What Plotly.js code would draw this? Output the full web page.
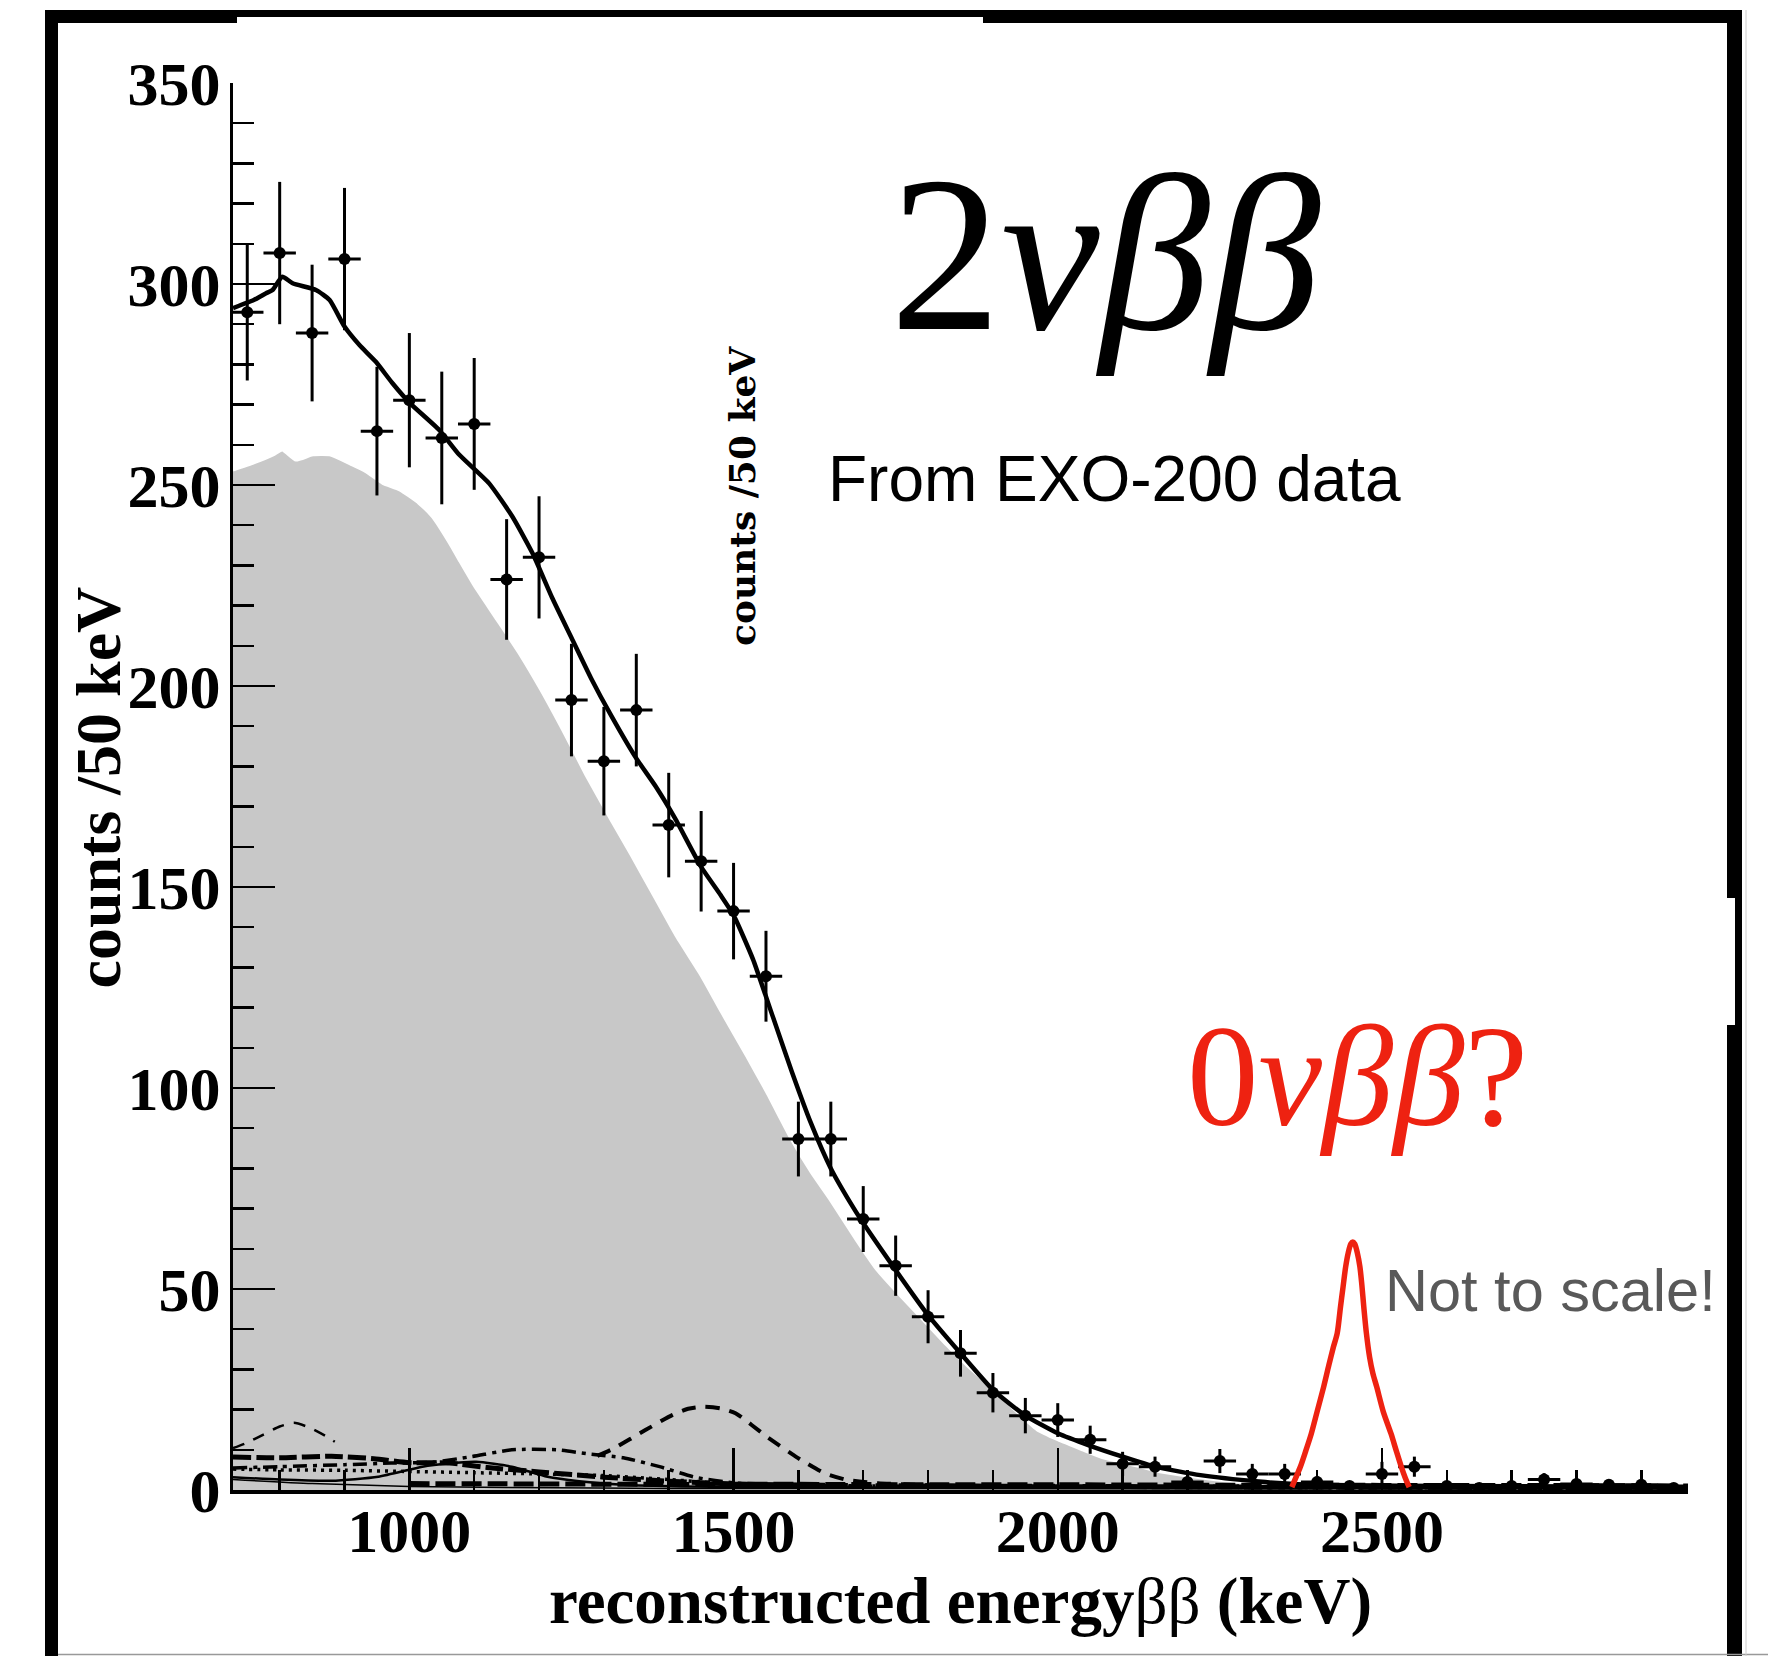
<!DOCTYPE html>
<html><head><meta charset="utf-8">
<script src="https://cdn.plot.ly/plotly-3.0.1.min.js"></script>
<style>html,body{margin:0;padding:0;background:#fff;} #chart{width:1768px;height:1656px;}</style>
</head><body><div id="chart"></div>
<script>
// ---- data ----
const binEnergy = [750,800,850,900,950,1000,1050,1100,1150,1200,1250,1300,1350,1400,1450,1500,1550,1600,1650,1700,1750,1800,1850,1900,1950,2000,2050,2100,2150,2200,2250,2300,2350,2400,2450,2500,2550,2600,2650,2700,2750,2800,2850,2900,2950];
const binCounts = [293,307.7,287.8,306.2,263.4,271.1,261.7,265.2,226.5,232,196.5,181.3,194,165.4,156.4,144,127.8,87.3,87.3,67.4,55.8,43.1,34,24.2,18.5,17.4,12.5,6.5,5.8,2,7.2,4,4,2,1,4,5.8,1,0.5,1,2.6,1.5,1.3,1.3,0.5];
const binErrors = [17,17.7,17,17.7,16,16.7,16.5,16.4,15,15.2,14,13.5,14,13,12.5,12,11.3,9.3,9.3,8.2,7.5,6.6,5.8,4.9,4.4,4.2,3.5,3,2.5,1.5,3,2.5,2.5,1.5,1,3,2.5,1,0.7,1,1.6,1.2,1.1,1.1,0.7];

const fitEnergy = [728,760,779,789,804,820,856,877,900,923,948,974,1000,1046,1077,1123,1159,1190,1220,1250,1280,1310,1350,1380,1410,1450,1480,1500,1530,1560,1590,1620,1650,1680,1700,1750,1800,1850,1900,1950,2000,2050,2100,2150,2220,2310,2364,2450,2600,2800,2972];
const fitCounts = [294,296,297.7,298.5,301.8,300.2,298.5,296,289.4,284.8,280.7,275.3,270.5,263.7,257.5,250.4,242.1,233,222,212,202,193,182,175,167,155,148,143,132,118,104,91,80,71.5,66.4,54.7,43.5,34,24.9,18.5,14.1,11,8.3,5.8,3.7,2.1,1.5,1.2,1,0.9,0.8];

const twoNuEnergy = [728,760,790,804,825,851,877,912,933,959,985,1015,1036,1062,1077,1100,1133,1170,1203,1240,1272,1310,1342,1380,1411,1450,1481,1520,1551,1590,1620,1650,1690,1720,1759,1800,1829,1860,1898,1930,1968,2000,2038,2070,2107,2150,2194,2240,2281,2330,2368,2420];
const twoNuCounts = [253.7,255.5,257.5,258.7,256.2,257.5,257.5,255,253.3,250.4,248.8,245.4,242,235.5,231.3,225,217,208,199,188,178,167,158,147,138,128,119,108,99,87,79,72,62,55,48,41,36,31,25.5,20.5,15,12.5,10,8,6.6,4.8,3.6,2.6,1.9,1.3,1,0.6];

const bkgA_E = [728,750,775,800,822,845,870,885];
const bkgA_V = [10.4,11.8,13.8,15.8,16.7,15.6,13.5,12];
const bkgB_E = [1290,1316,1364,1406,1430,1454,1480,1503,1551,1599,1640,1675,1723,1800,1900,2100,2400,2700,2972];
const bkgB_V = [8.5,10.4,14.9,18.7,20.2,20.7,20.3,19.1,13.3,8,4.2,2.5,1.7,1.2,1,0.9,0.8,0.7,0.6];
const bkgC_E = [728,800,900,972,1034,1096,1158,1227,1275,1330,1386,1440,1503,1560,1650,1800,2100,2500,2972];
const bkgC_V = [5.5,5.8,6.3,6.7,6.9,8.3,10,10,9,8,5.8,3.2,1.7,1.2,1,0.8,0.7,0.5,0.4];
const bkgD_E = [728,800,880,945,1000,1062,1120,1200,1300,1400,1500,1700,2000,2500,2972];
const bkgD_V = [8.2,8.0,8.4,7.8,6.8,6.7,5.6,4.5,3.2,2.2,1.5,1.1,0.9,0.7,0.6];
const bkgE_E = [728,800,880,952,1020,1060,1103,1158,1213,1262,1330,1420,1600,2000,2972];
const bkgE_V = [3.2,2.6,2.3,3.3,5.8,6.6,7,5.8,3.3,2.2,1.3,0.9,0.7,0.5,0.4];
const bkgF_E = [728,800,900,1000,1100,1200,1300,1400,1500,1700,2000,2500,2972];
const bkgF_V = [5.2,5,4.9,4.6,4.3,4,3.6,2.6,1.5,1,0.8,0.6,0.5];
const bkgG_E = [728,850,1000,1150,1400,2972];
const bkgG_V = [2.6,1.6,0.9,0.6,0.4,0.3];
const bkgH_E = [1000,1200,1400,1600,1800,2000,2200,2400,2600,2800,2972];
const bkgH_V = [1.6,1.5,1.4,1.4,1.3,1.3,1.2,1.2,1.1,1.1,1.0];

const zeroNuEnergy = [2361,2367,2374,2382,2391,2400,2410,2418,2425,2431,2436,2440,2444,2448,2452,2455,2458,2462,2466,2469,2472,2476,2481,2486,2492,2502,2514,2522,2530,2536,2542];
const zeroNuCounts = [0.7,3,5.7,9.5,14,19.5,25.6,31,35.5,39,45.5,50.5,55.5,59,61.2,61.7,61.2,59,55.5,51,45.5,39,33,29,25.6,19.5,14,9.8,5.7,3,0.7];

const xTickVals = [1000,1500,2000,2500];
const yTickVals = [0,50,100,150,200,250,300,350];

// ---- layout geometry (pixels) ----
const W = 1768, H = 1656, L = 233, R = 1688, T = 83, B = 1490;
const px = x => (x - L) / (R - L);
const py = y => (B - y) / (B - T);

const serif = 'Liberation Serif, Times New Roman, serif';
const sans = 'Liberation Sans, Arial, sans-serif';
const red = '#ee2211';

function bkg(E, V, dash, width) {
  return {x: E, y: V, type: 'scatter', mode: 'lines', hoverinfo: 'skip', showlegend: false,
          line: {color: 'black', width: width, dash: dash, shape: 'spline', smoothing: 0.6}};
}

const traces = [
  {x: twoNuEnergy, y: twoNuCounts, type: 'scatter', mode: 'lines', fill: 'tozeroy',
   fillcolor: '#c8c8c8', line: {color: 'white', width: 3, shape: 'spline', smoothing: 0.5}, showlegend: false},
  bkg(bkgG_E, bkgG_V, 'solid', 1.5),
  bkg(bkgE_E, bkgE_V, 'solid', 2.5),
  bkg(bkgF_E, bkgF_V, '3px,5px', 3.5),
  bkg(bkgH_E, bkgH_V, '20px,6px', 5),
  bkg(bkgD_E, bkgD_V, '18px,5px', 5),
  bkg(bkgC_E, bkgC_V, '14px,6px,4px,6px', 3.5),
  bkg(bkgA_E, bkgA_V, '12px,10px', 2.5),
  bkg(bkgB_E, bkgB_V, '14px,10px', 4),
  {x: fitEnergy, y: fitCounts, type: 'scatter', mode: 'lines',
   line: {color: 'black', width: 4.5, shape: 'spline', smoothing: 0.5}, showlegend: false},
  {x: binEnergy, y: binCounts, type: 'scatter', mode: 'markers',
   marker: {color: 'black', size: 12},
   error_y: {type: 'data', array: binErrors, visible: true, color: 'black', thickness: 3, width: 0},
   error_x: {type: 'constant', value: 25, visible: true, color: 'black', thickness: 3, width: 0},
   showlegend: false},
  {x: zeroNuEnergy, y: zeroNuCounts, type: 'scatter', mode: 'lines',
   line: {color: red, width: 5.5, shape: 'spline', smoothing: 0.8}, showlegend: false}
];

const shapes = [
  {type: 'rect', xref: 'paper', yref: 'paper', x0: px(45), x1: px(58), y0: py(10), y1: py(1656), fillcolor: 'black', line: {width: 0}},
  {type: 'rect', xref: 'paper', yref: 'paper', x0: px(45), x1: px(1742), y0: py(10), y1: py(23), fillcolor: 'black', line: {width: 0}},
  {type: 'rect', xref: 'paper', yref: 'paper', x0: px(1727), x1: px(1742), y0: py(10), y1: py(1656), fillcolor: 'black', line: {width: 0}},
  {type: 'rect', xref: 'paper', yref: 'paper', x0: px(237), x1: px(983), y0: py(17), y1: py(23), fillcolor: 'white', line: {width: 0}},
  {type: 'rect', xref: 'paper', yref: 'paper', x0: px(1726), x1: px(1735), y0: py(898), y1: py(1025), fillcolor: 'white', line: {width: 0}},
  {type: 'line', xref: 'paper', yref: 'paper', x0: px(58), x1: px(1768), y0: py(1654.5), y1: py(1654.5), line: {color: '#999', width: 1.5}},
  {type: 'line', xref: 'paper', yref: 'paper', x0: px(1746), x1: px(1746), y0: py(10), y1: py(1656), line: {color: '#ccc', width: 1}}
];

const annotations = [
  {text: '2<i>νββ</i>', xref: 'paper', yref: 'paper', x: px(888), y: py(129), xanchor: 'left', yanchor: 'top',
   showarrow: false, font: {family: serif, size: 222, color: 'black'}},
  {text: 'From EXO-200 data', xref: 'paper', yref: 'paper', x: px(826), y: py(441), xanchor: 'left', yanchor: 'top',
   showarrow: false, font: {family: sans, size: 64, color: 'black'}},
  {text: '0<i>νββ</i>?', xref: 'paper', yref: 'paper', x: px(1185), y: py(996), xanchor: 'left', yanchor: 'top',
   showarrow: false, font: {family: serif, size: 143, color: red}},
  {text: 'Not to scale!', xref: 'paper', yref: 'paper', x: px(1383), y: py(1255), xanchor: 'left', yanchor: 'top',
   showarrow: false, font: {family: sans, size: 59.5, color: '#595959'}},
  {text: '<b>counts /50 keV</b>', xref: 'paper', yref: 'paper', x: px(742), y: py(496), xanchor: 'center', yanchor: 'middle',
   textangle: -90, showarrow: false, font: {family: 'DejaVu Serif, serif', size: 36, color: 'black'}},
  // y-axis title
  {text: 'counts /50 keV', xref: 'paper', yref: 'paper', x: px(97.5), y: py(788), xanchor: 'center', yanchor: 'middle',
   textangle: -90, showarrow: false, font: {family: serif, size: 64, color: 'black', weight: 'bold'}}
];

const layout = {
  width: W, height: H,
  margin: {l: L, r: W - R, t: T, b: H - B, pad: 0},
  paper_bgcolor: 'white', plot_bgcolor: 'white',
  showlegend: false,
  xaxis: {
    range: [728, 2972], showgrid: false, zeroline: false,
    showline: true, linecolor: 'black', linewidth: 4,
    ticks: 'inside', ticklen: 42, tickwidth: 2.5, tickcolor: 'black',
    tickvals: xTickVals, ticktext: xTickVals.map(String),
    minor: {dtick: 100, tick0: 0, ticks: 'inside', ticklen: 20, tickwidth: 2.5, tickcolor: 'black', showgrid: false},
    tickfont: {family: serif, size: 62, color: 'black', weight: 'bold'},
    ticklabelstandoff: -16,
    title: {text: 'reconstructed energy<span style="font-weight:normal">ββ</span> (keV)',
            font: {family: serif, size: 65, color: 'black', weight: 'bold'}, standoff: 11},
    automargin: false
  },
  yaxis: {
    range: [0, 350], showgrid: false, zeroline: false,
    showline: true, linecolor: 'black', linewidth: 3,
    ticks: 'inside', ticklen: 42, tickwidth: 2.5, tickcolor: 'black',
    tickvals: yTickVals, ticktext: yTickVals.map(String),
    minor: {dtick: 10, tick0: 0, ticks: 'inside', ticklen: 21, tickwidth: 2.5, tickcolor: 'black', showgrid: false},
    tickfont: {family: serif, size: 62, color: 'black', weight: 'bold'},
    ticklabelstandoff: -3,
    automargin: false
  },
  shapes: shapes,
  annotations: annotations
};

Plotly.newPlot('chart', traces, layout, {displayModeBar: false, staticPlot: true});
</script></body></html>
